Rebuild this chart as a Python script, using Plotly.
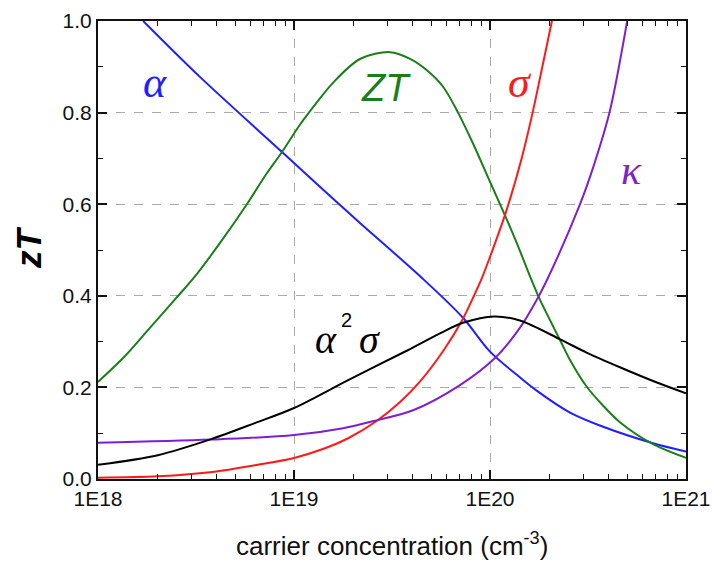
import plotly.graph_objects as go

# ---- data (carrier concentration in cm^-3, normalized values) ----
alpha_x = [1.70e18, 3.31e18, 8.69e18, 1.0e19, 1.70e19, 2.17e19, 4.47e19, 7.28e19, 1.0e20, 1.42e20, 1.73e20, 2.56e20, 3.78e20, 6.79e20, 1.0e21]
alpha_y = [1.0, 0.878, 0.714, 0.690, 0.600, 0.559, 0.440, 0.352, 0.278, 0.222, 0.193, 0.145, 0.114, 0.078, 0.060]

zt_x = [1.0e18, 1.37e18, 1.84e18, 2.47e18, 3.20e18, 4.30e18, 5.75e18, 7.28e18, 8.69e18, 1.07e19, 1.29e19, 1.58e19, 2.17e19, 3.09e19,
        3.89e19, 4.75e19, 5.75e19, 6.87e19, 8.18e19, 1.0e20, 1.20e20, 1.37e20, 1.63e20, 1.80e20, 2.28e20, 2.56e20, 3.11e20, 3.78e20,
        4.60e20, 6.79e20, 1.0e21]
zt_y = [0.212, 0.268, 0.330, 0.392, 0.448, 0.522, 0.600, 0.668, 0.714, 0.773, 0.819, 0.865, 0.917, 0.932,
        0.918, 0.893, 0.857, 0.800, 0.733, 0.649, 0.573, 0.515, 0.434, 0.391, 0.303, 0.260, 0.202, 0.160,
        0.124, 0.076, 0.046]

sigma_x = [1.0e18, 2.02e18, 3.94e18, 6.31e18, 1.0e19, 1.44e19, 1.89e19, 2.63e19, 3.5e19, 4.40e19, 5.78e19, 7.28e19, 8.18e19,
           9.08e19, 1.0e20, 1.20e20, 1.45e20, 1.65e20, 1.86e20, 2.07e20]
sigma_y = [0.003, 0.006, 0.016, 0.030, 0.046, 0.067, 0.089, 0.126, 0.169, 0.213, 0.280, 0.350, 0.395,
           0.438, 0.485, 0.580, 0.700, 0.800, 0.905, 1.0]

kappa_x = [1.0e18, 3.78e18, 1.0e19, 1.78e19, 2.63e19, 4.05e19, 7.03e19, 1.06e20, 1.42e20, 1.73e20, 1.95e20, 2.88e20, 3.37e20,
           4.07e20, 5.01e20]
kappa_y = [0.079, 0.086, 0.096, 0.111, 0.128, 0.150, 0.205, 0.264, 0.330, 0.391, 0.434, 0.600, 0.682,
           0.800, 1.0]

pf_x = [1.0e18, 2.02e18, 3.78e18, 6.31e18, 1.0e19, 1.89e19, 3.76e19, 5.56e19, 7.28e19, 1.05e20, 1.42e20, 2.28e20,
        3.11e20, 4.60e20, 6.79e20, 1.0e21]
pf_y = [0.031, 0.052, 0.087, 0.122, 0.155, 0.216, 0.280, 0.318, 0.341, 0.355, 0.346, 0.305,
        0.276, 0.244, 0.214, 0.187]

x_tickvals = [1e18, 1e19, 1e20, 1e21]
x_ticktext = ["1E18", "1E19", "1E20", "1E21"]
x_minor = [m * d for d in (1e18, 1e19, 1e20) for m in range(2, 10)]
y_tickvals = [0.0, 0.2, 0.4, 0.6, 0.8, 1.0]

# ---- layout helpers (pixel -> paper) ----
W, H = 712, 562
L, R, T, B = 98, 26, 21, 83
PW, PH = W - L - R, H - T - B


def px(x):
    return (x - L) / PW


def py(y):
    return (H - B - y) / PH


fig = go.Figure()
series = [
    (alpha_x, alpha_y, "#1f1fff"),
    (zt_x, zt_y, "#1a7f1a"),
    (sigma_x, sigma_y, "#ff1a1a"),
    (kappa_x, kappa_y, "#7f1fd0"),
    (pf_x, pf_y, "#000000"),
]
for xs, ys, c in series:
    fig.add_trace(go.Scatter(x=xs, y=ys, mode="lines",
                             line=dict(color=c, width=2, shape="spline", smoothing=0.9),
                             showlegend=False, hoverinfo="skip", cliponaxis=True))

tickfont = dict(family="Liberation Sans, Arial", size=21, color="#111")
axis_common = dict(ticks="inside", ticklen=9, tickwidth=1.5, tickcolor="#111",
                   showline=True, linecolor="#111", linewidth=2, mirror="ticks",
                   showgrid=True, gridcolor="#aaaaaa", griddash="dash", gridwidth=1.2,
                   tickfont=tickfont, zeroline=False, automargin=False)
fig.update_layout(
    width=W, height=H,
    margin=dict(l=L, r=R, t=T, b=B, autoexpand=False),
    paper_bgcolor="white", plot_bgcolor="white",
    xaxis=dict(type="log", range=[18, 21], tickvals=x_tickvals, ticktext=x_ticktext,
               minor=dict(tickvals=x_minor, ticks="inside", ticklen=5, tickwidth=1.2, tickcolor="#111", showgrid=False),
               **axis_common),
    yaxis=dict(range=[0, 1.0], tickvals=y_tickvals, tickformat=".1f",
               minor=dict(dtick=0.1, ticks="inside", ticklen=5, tickwidth=1.2, tickcolor="#111", showgrid=False),
               **axis_common),
)

serif = "Liberation Serif, Times New Roman"
sans = "Liberation Sans, Arial"
ann = [
    dict(text="<i>α</i>", x=px(155), y=py(82), font=dict(family=serif, size=44, color="#1f1fff")),
    dict(text="<i>ZT</i>", x=px(386), y=py(88), font=dict(family=sans, size=38, color="#1a7f1a")),
    dict(text="<i>σ</i>", x=px(520), y=py(82), font=dict(family=serif, size=44, color="#ff1a1a")),
    dict(text="<i>κ</i>", x=px(631), y=py(170), font=dict(family=serif, size=42, color="#7f1fd0")),
    dict(text="<i>α</i>", x=px(326), y=py(339), font=dict(family=serif, size=40, color="#000")),
    dict(text="2", x=px(346), y=py(320), font=dict(family=sans, size=20, color="#000")),
    dict(text="<i>σ</i>", x=px(369), y=py(339), font=dict(family=serif, size=40, color="#000")),
    dict(text="<b><i>zT</i></b>", x=px(28), y=py(248), textangle=-90, font=dict(family=sans, size=35, color="#000")),
    dict(text="carrier concentration (cm<sup>-3</sup>)", x=px(392), y=py(544), font=dict(family=sans, size=26, color="#111")),
]
for a in ann:
    a.update(xref="paper", yref="paper", showarrow=False, xanchor="center", yanchor="middle")
    fig.add_annotation(**a)

fig.write_html("out.html", config={"displayModeBar": False},
               post_script="document.body.style.margin='0px';document.body.style.overflow='hidden';")
